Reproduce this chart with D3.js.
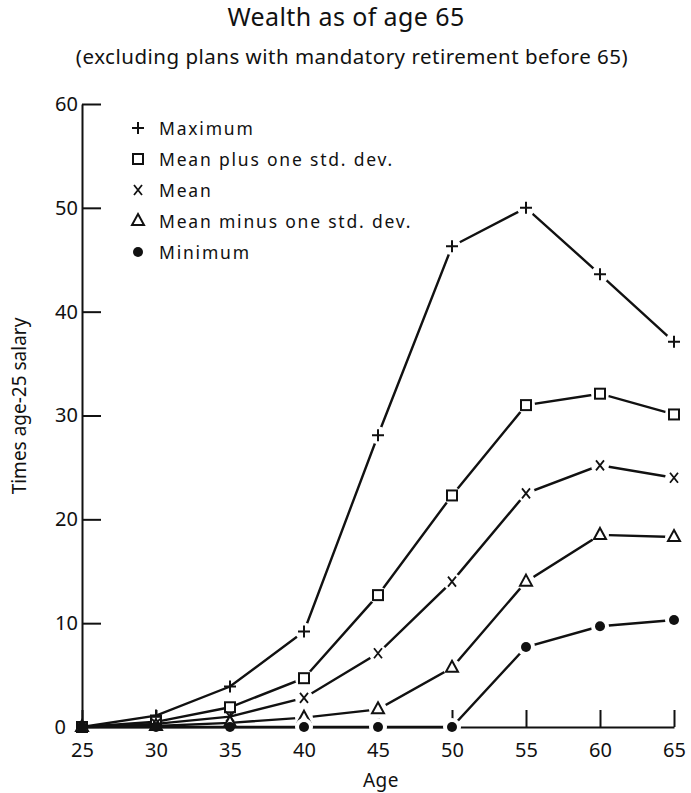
<html>
<head>
  <style>
    body {
      margin: 0;
      background: #ffffff;
      font-family: "Noto Sans", sans-serif;
    }
    text {
      fill: #111;
    }
  </style>
</head>
<body>
  <div id="chart"></div>

  <script src="https://d3js.org/d3.v7.min.js"></script>
  <script>
    var ages = [25, 30, 35, 40, 45, 50, 55, 60, 65];
    var yTicks = [0, 10, 20, 30, 40, 50, 60];

    var maximum    = [0, 1.1, 3.9, 9.2, 28.1, 46.3, 50.0, 43.6, 37.1];
    var meanPlus   = [0, 0.5, 1.9, 4.7, 12.7, 22.3, 31.0, 32.1, 30.1];
    var mean       = [0, 0.3, 1.0, 2.8, 7.1, 14.0, 22.5, 25.2, 24.0];
    var meanMinus  = [0, 0.1, 0.4, 0.9, 1.7, 5.7, 14.0, 18.5, 18.3];
    var minimum    = [0, 0, 0, 0, 0, 0, 7.7, 9.7, 10.3];

    var seriesNames = ["Maximum", "Mean plus one std. dev.", "Mean", "Mean minus one std. dev.", "Minimum"];
    var seriesMarks = ["plus", "square", "cross", "triangle", "dot"];
    var seriesValues = [maximum, meanPlus, mean, meanMinus, minimum];

    var width = 691, height = 793;
    var margin = { left: 82, right: 17, top: 104, bottom: 66 };

    var svg = d3.select("#chart")
      .append("svg")
      .attr("width", width)
      .attr("height", height);

    var x = d3.scaleLinear().domain([25, 65]).range([margin.left, width - margin.right]);
    var y = d3.scaleLinear().domain([0, 60]).range([height - margin.bottom, margin.top]);

    // titles
    svg.append("text")
      .attr("x", 346).attr("y", 26)
      .attr("text-anchor", "middle")
      .style("font-size", "25px")
      .style("letter-spacing", "0.4px")
      .text("Wealth as of age 65");

    svg.append("text")
      .attr("x", 352).attr("y", 64)
      .attr("text-anchor", "middle")
      .style("font-size", "20.5px")
      .style("letter-spacing", "0.5px")
      .text("(excluding plans with mandatory retirement before 65)");

    // axes
    var xAxis = svg.append("g")
      .attr("transform", "translate(0," + y(0) + ")")
      .call(d3.axisBottom(x).tickValues(ages).tickSize(-17).tickPadding(16).tickSizeOuter(0));

    var yAxis = svg.append("g")
      .attr("transform", "translate(" + x(25) + ",0)")
      .call(d3.axisLeft(y).tickValues(yTicks).tickSize(-19).tickPadding(4).tickSizeOuter(0));

    [xAxis, yAxis].forEach(function (g) {
      g.select(".domain").attr("stroke", "#111").attr("stroke-width", 2);
      g.selectAll(".tick line").attr("stroke", "#111").attr("stroke-width", 2);
      g.selectAll(".tick text")
        .style("font-family", "'Noto Sans', sans-serif")
        .style("font-size", "20px")
        .attr("fill", "#111");
    });
    var zeroTick = yAxis.selectAll(".tick").filter(function (d) { return d === 0; });
    zeroTick.select("line").remove();
    zeroTick.select("text").attr("x", -16);

    svg.append("text")
      .attr("x", 381).attr("y", 787)
      .attr("text-anchor", "middle")
      .style("font-size", "19px")
      .style("letter-spacing", "0.5px")
      .text("Age");

    svg.append("text")
      .attr("transform", "translate(26,406) rotate(-90)")
      .attr("text-anchor", "middle")
      .style("font-size", "19px")
      .text("Times age-25 salary");

    function marker(g, type, cx, cy) {
      if (type === "plus") {
        g.append("path")
          .attr("d", "M" + (cx - 6) + "," + cy + "H" + (cx + 6) + "M" + cx + "," + (cy - 6) + "V" + (cy + 6))
          .attr("stroke", "#111").attr("stroke-width", 2).attr("fill", "none");
      } else if (type === "square") {
        g.append("rect")
          .attr("x", cx - 5).attr("y", cy - 5).attr("width", 10).attr("height", 10)
          .attr("stroke", "#111").attr("stroke-width", 2).attr("fill", "#fff");
      } else if (type === "cross") {
        g.append("path")
          .attr("d", "M" + (cx - 4) + "," + (cy - 5) + "L" + (cx + 4) + "," + (cy + 5) + "M" + (cx + 4) + "," + (cy - 5) + "L" + (cx - 4) + "," + (cy + 5))
          .attr("stroke", "#111").attr("stroke-width", 1.8).attr("fill", "none");
      } else if (type === "triangle") {
        g.append("path")
          .attr("d", "M" + cx + "," + (cy - 7) + "L" + (cx + 6) + "," + (cy + 4) + "L" + (cx - 6) + "," + (cy + 4) + "Z")
          .attr("stroke", "#111").attr("stroke-width", 2).attr("fill", "#fff");
      } else {
        g.append("circle")
          .attr("cx", cx).attr("cy", cy).attr("r", 5)
          .attr("fill", "#111");
      }
    }

    var line = d3.line()
      .x(function (d, i) { return x(ages[i]); })
      .y(function (d) { return y(d); });

    var plot = svg.append("g");

    seriesValues.forEach(function (vals, s) {
      var g = plot.append("g");
      g.append("path")
        .datum(vals)
        .attr("d", line)
        .attr("fill", "none")
        .attr("stroke", "#111")
        .attr("stroke-width", 2.4);
      // small white gaps around markers
      vals.forEach(function (v, i) {
        if (ages[i] <= 35) return;
        g.append("circle")
          .attr("cx", x(ages[i])).attr("cy", y(v)).attr("r", 9)
          .attr("fill", "#fff");
      });
      vals.forEach(function (v, i) {
        marker(g, seriesMarks[s], x(ages[i]), y(v));
      });
    });

    // legend
    var legend = svg.append("g");
    seriesNames.forEach(function (name, i) {
      var ly = 128 + i * 31;
      marker(legend, seriesMarks[i], 138, ly);
      legend.append("text")
        .attr("x", 159).attr("y", ly + 7)
        .style("font-size", "17.5px")
        .style("letter-spacing", "1.8px")
        .text(name);
    });
  </script>
</body>
</html>
